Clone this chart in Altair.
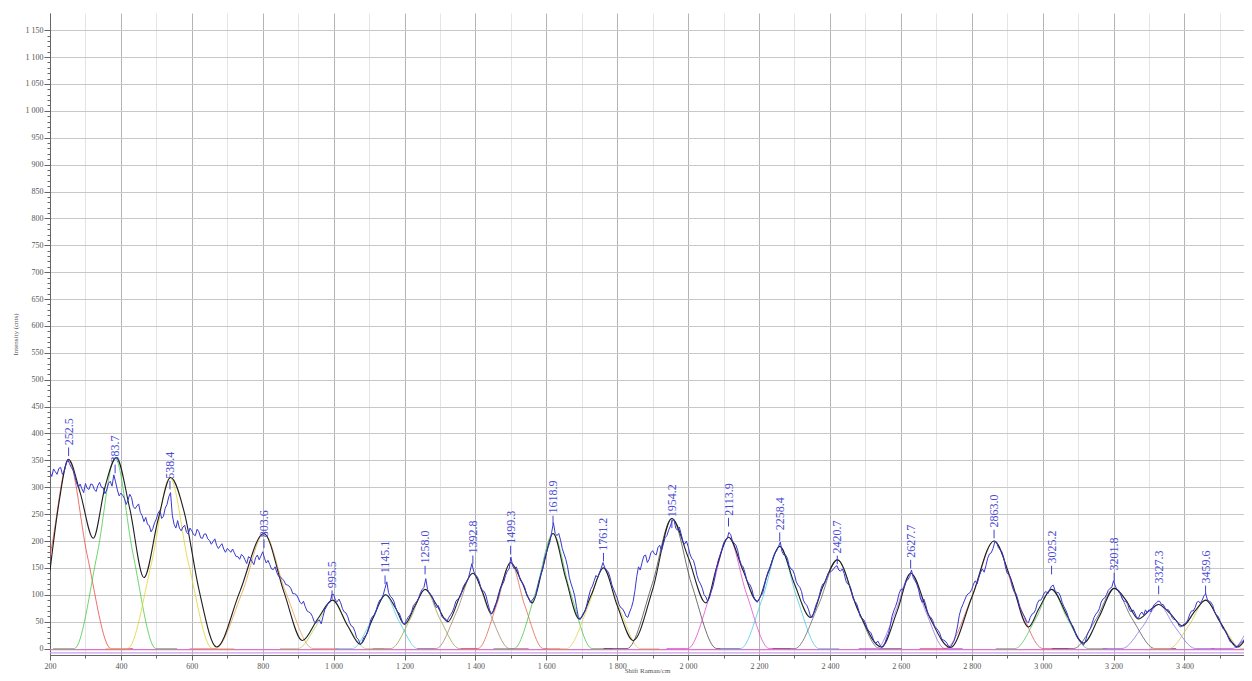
import altair as alt
import pandas as pd

# ---------------- data ----------------
# measured spectrum (blue), sampled every 5 cm-1 from 200 cm-1 (one row = 100 cm-1)
spec_start = 200
spec_step = 5
spec_y = [
    328, 320, 334, 329, 324, 335, 337, 324, 329, 342, 352, 344, 337, 332, 321, 308, 300, 306, 297, 290,
    307, 298, 296, 306, 305, 296, 292, 303, 309, 300, 299, 288, 295, 307, 311, 302, 323, 310, 295, 284,
    289, 285, 279, 268, 276, 287, 281, 264, 260, 265, 269, 253, 247, 236, 244, 231, 229, 217, 223, 234,
    241, 252, 257, 242, 246, 261, 268, 282, 290, 248, 231, 224, 238, 224, 219, 226, 229, 216, 213, 224,
    219, 212, 210, 222, 217, 206, 205, 213, 213, 204, 201, 194, 199, 204, 192, 186, 191, 195, 185, 179,
    186, 183, 179, 185, 178, 171, 171, 166, 175, 172, 165, 158, 171, 168, 162, 156, 169, 174, 165, 172,
    180, 168, 159, 164, 156, 148, 147, 152, 141, 134, 133, 130, 126, 119, 118, 116, 111, 102, 102, 100,
    94, 86, 83, 88, 78, 70, 68, 66, 60, 50, 47, 52, 53, 46, 59, 72, 78, 84, 86, 100,
    101, 90, 87, 92, 85, 74, 68, 66, 59, 48, 42, 40, 32, 20, 17, 8, 11, 20, 24, 28,
    40, 54, 60, 62, 70, 82, 90, 92, 100, 112, 124, 104, 97, 94, 88, 76, 68, 66, 57, 48,
    45, 52, 58, 62, 68, 80, 84, 88, 94, 104, 110, 114, 130, 110, 103, 100, 94, 82, 76, 80,
    72, 60, 56, 56, 51, 58, 63, 68, 77, 88, 92, 94, 102, 114, 120, 124, 130, 144, 158, 144,
    137, 134, 126, 114, 108, 106, 98, 84, 72, 64, 70, 80, 86, 96, 110, 118, 124, 136, 144, 148,
    170, 154, 148, 152, 144, 130, 124, 120, 112, 98, 94, 86, 90, 94, 98, 114, 128, 138, 148, 168,
    178, 188, 198, 216, 234, 214, 210, 214, 202, 186, 176, 166, 152, 132, 120, 110, 98, 78, 60, 54,
    60, 66, 70, 84, 98, 110, 116, 126, 136, 132, 140, 150, 160, 150, 146, 142, 132, 118, 110, 102,
    94, 82, 76, 74, 68, 60, 58, 68, 76, 88, 108, 134, 152, 146, 160, 172, 174, 160, 166, 178,
    182, 176, 174, 188, 192, 182, 194, 206, 210, 220, 228, 238, 240, 224, 220, 226, 214, 200, 194, 200,
    190, 176, 168, 164, 152, 136, 126, 120, 112, 100, 96, 88, 94, 106, 116, 132, 150, 164, 174, 184,
    196, 202, 204, 216, 212, 200, 196, 192, 182, 166, 156, 152, 142, 128, 122, 118, 110, 96, 90, 86,
    92, 98, 102, 116, 130, 142, 148, 158, 170, 178, 182, 190, 198, 180, 174, 174, 168, 154, 148, 146,
    138, 124, 118, 114, 106, 90, 84, 80, 72, 60, 58, 68, 80, 88, 98, 112, 120, 122, 130, 140,
    142, 144, 148, 152, 154, 146, 144, 148, 140, 126, 120, 118, 110, 94, 88, 84, 74, 60, 56, 54,
    48, 38, 32, 30, 22, 12, 10, 14, 8, 2, 3, 10, 20, 28, 42, 60, 70, 78, 88, 102,
    110, 110, 116, 126, 128, 134, 146, 132, 126, 120, 110, 94, 86, 92, 82, 68, 60, 58, 52, 42,
    38, 34, 28, 18, 16, 14, 10, 4, 3, 8, 14, 26, 42, 62, 74, 82, 90, 98, 102, 104,
    110, 120, 126, 120, 132, 142, 148, 142, 154, 168, 176, 178, 186, 198, 198, 188, 184, 180, 170, 152,
    140, 138, 130, 114, 106, 102, 92, 78, 70, 64, 58, 50, 48, 58, 64, 66, 72, 84, 90, 90,
    96, 104, 106, 102, 110, 116, 118, 108, 104, 104, 98, 86, 78, 72, 64, 52, 46, 42, 34, 24,
    18, 16, 12, 6, 12, 24, 32, 38, 48, 58, 64, 68, 74, 86, 92, 94, 100, 108, 112, 114,
    126, 116, 110, 108, 102, 92, 88, 88, 82, 72, 68, 72, 66, 58, 56, 64, 68, 62, 72, 66,
    72, 68, 76, 82, 84, 88, 88, 82, 82, 76, 72, 72, 66, 58, 54, 54, 50, 42, 40, 44,
    46, 48, 54, 64, 70, 70, 76, 86, 88, 84, 90, 98, 102, 90, 88, 86, 80, 68, 62, 60,
    52, 42, 36, 34, 28, 18, 12, 12, 8, 2, 3, 8, 12, 14, 18, 26, 32, 34, 38, 46,
    48,
]

# fitted envelope (black), key points
env_x = [200, 225, 252, 285, 322, 355, 387, 425, 465, 505, 540, 580, 620, 670,
         735, 803, 860, 912, 955, 997, 1040, 1075, 1110, 1147, 1175, 1200, 1230,
         1258, 1290, 1322, 1358, 1393, 1420, 1445, 1472, 1499, 1530, 1560, 1590,
         1619, 1655, 1693, 1727, 1761, 1800, 1845, 1900, 1954, 2000, 2050, 2080,
         2114, 2155, 2195, 2225, 2258, 2300, 2345, 2380, 2421, 2480, 2545, 2590,
         2628, 2680, 2740, 2800, 2863, 2910, 2960, 2990, 3025, 3070, 3115, 3160,
         3202, 3235, 3270, 3300, 3327, 3360, 3395, 3430, 3460, 3500, 3550, 3575, 3600]
env_y = [145, 270, 352, 290, 205, 300, 355, 260, 132, 240, 318, 250, 110, 3,
         105, 214, 105, 15, 55, 90, 42, 8, 55, 100, 75, 45, 80,
         110, 82, 50, 100, 140, 105, 65, 115, 160, 125, 85, 150,
         214, 130, 55, 100, 150, 80, 15, 110, 242, 170, 85, 150,
         207, 145, 88, 140, 190, 120, 58, 115, 165, 70, 3, 70,
         140, 60, 2, 95, 200, 130, 40, 75, 110, 60, 10, 60,
         112, 90, 55, 70, 82, 65, 42, 70, 90, 50, 3, 20, 48]

# fitted components: centre, height, half width at half maximum, colour
comp_center = [252.5, 383.7, 538.4, 803.6, 995.5, 1145.1, 1258.0, 1392.8, 1499.3,
               1618.9, 1761.2, 1954.2, 2113.9, 2258.4, 2420.7, 2627.7, 2863.0,
               3025.2, 3201.8, 3327.3, 3459.6, 3650.0]
comp_height = [350, 355, 318, 214, 90, 100, 110, 140, 160, 214, 150, 242, 207, 190,
               165, 140, 200, 110, 112, 82, 90, 130]
comp_hwhm = [52, 50, 52, 60, 42, 40, 42, 45, 40, 48, 45, 55, 50, 48, 52, 42, 60, 45,
             50, 45, 45, 50]
comp_color = ["#e8403a", "#3cc83c", "#e0d020", "#e89a40", "#a8d048", "#40d0e0",
              "#90a040", "#a08060", "#e06040", "#40c040", "#e0d040", "#404040",
              "#e040d0", "#40c8e0", "#606060", "#a060e0", "#e05050", "#50c050",
              "#505050", "#8070e0", "#d8c040", "#a060e0"]

# peak labels
peak_text = ["252.5", "383.7", "538.4", "803.6", "995.5", "1145.1", "1258.0", "1392.8",
             "1499.3", "1618.9", "1761.2", "1954.2", "2113.9", "2258.4", "2420.7",
             "2627.7", "2863.0", "3025.2", "3201.8", "3327.3", "3459.6"]
peak_label_y = [378, 346, 316, 207, 112, 140, 158, 177, 195, 251, 182, 244, 247, 220,
                177, 169, 225, 158, 145, 121, 121]

# ---------------- tables ----------------
spec_df = pd.DataFrame({
    "x": [spec_start + spec_step * i for i in range(len(spec_y))],
    "y": spec_y,
})
env_df = pd.DataFrame({"x": env_x, "y": env_y})

profile_k = [-3.5, -2.3, -1.0, 0.0, 1.0, 2.3, 3.5]
profile_f = [0.0, 0.0, 0.5, 1.0, 0.5, 0.0, 0.0]
rows = []
for i, (c, h, w) in enumerate(zip(comp_center, comp_height, comp_hwhm)):
    for j, (k, f) in enumerate(zip(profile_k, profile_f)):
        rows.append({"comp": f"c{i:02d}", "order": j, "x": c + k * w, "y": h * f})
comp_df = pd.DataFrame(rows)

peak_df = pd.DataFrame({
    "x": [float(t) for t in peak_text],
    "label": peak_text,
    "y": peak_label_y,
})
peak_df["y0"] = peak_df["y"] - 20
peak_df["y1"] = peak_df["y"] - 4

base_df = pd.DataFrame({"y": [-2.0, -8.0], "kind": ["a", "b"]})

# ---------------- scales / axes ----------------
FONT = "Liberation Serif"
xscale = alt.Scale(domain=[200, 3568], nice=False, zero=False)
yscale = alt.Scale(domain=[-12, 1182], nice=False, zero=False)

fmt = "replace(format(datum.value, ','), ',', ' ')"

x_axis = alt.Axis(
    values=list(range(200, 3601, 100)),
    labelExpr=f"datum.value % 200 === 0 ? {fmt} : ''",
    tickSize=alt.condition("datum.value % 200 === 0", alt.value(5), alt.value(3)),
    gridColor=alt.condition("datum.value % 200 === 0", alt.value("#b4b4b4"), alt.value("#e4e4e4")),
    labelOverlap=False,
    labelFlush=False,
    labelFont=FONT,
    labelFontSize=8,
    labelColor="#555555",
    labelPadding=2,
    tickColor="#666666",
    domainColor="#666666",
    title="Shift Raman/cm",
    titleFont=FONT,
    titleFontSize=7,
    titleFontWeight="normal",
    titleColor="#555555",
    titleX=597,
    titleY=15,
    titleAlign="center",
    titleBaseline="middle",
)

y_axis = alt.Axis(
    values=list(range(0, 1151, 10)),
    labelExpr=f"datum.value % 50 === 0 ? {fmt} : ''",
    tickSize=alt.condition("datum.value % 50 === 0", alt.value(6), alt.value(3)),
    gridOpacity=alt.condition("datum.value % 50 === 0", alt.value(1), alt.value(0)),
    gridColor="#c8c8c8",
    labelOverlap=False,
    labelFlush=False,
    labelFont=FONT,
    labelFontSize=8,
    labelColor="#555555",
    labelPadding=1,
    tickColor="#666666",
    domainColor="#666666",
    title="Intensity (cnts)",
    titleFont=FONT,
    titleFontSize=7,
    titleFontWeight="normal",
    titleColor="#555555",
    titleAngle=270,
    titleX=-35,
    titleY=321,
    titleAlign="center",
    titleBaseline="middle",
)

X = alt.X("x:Q", scale=xscale, axis=x_axis)
Y = alt.Y("y:Q", scale=yscale, axis=y_axis)

# ---------------- layers ----------------
comps = alt.Chart(comp_df).mark_line(
    interpolate="monotone", strokeWidth=1, opacity=0.75, clip=True
).encode(
    x=X, y=Y,
    color=alt.Color("comp:N", scale=alt.Scale(domain=[f"c{i:02d}" for i in range(len(comp_center))],
                                               range=comp_color), legend=None),
    order="order:Q",
)

baselines = alt.Chart(base_df).mark_rule(strokeWidth=1.4).encode(
    y=Y,
    color=alt.Color("kind:N", scale=alt.Scale(domain=["a", "b"], range=["#e070d0", "#c8a0e8"]),
                    legend=None),
)

envelope = alt.Chart(env_df).mark_line(
    interpolate="monotone", color="#1e1e1e", strokeWidth=1.1, clip=True
).encode(x=X, y=Y)

spectrum = alt.Chart(spec_df).mark_line(
    color="#3838d0", strokeWidth=1, clip=True
).encode(x=X, y=Y)

markers = alt.Chart(peak_df).mark_rule(color="#4040d0", strokeWidth=1).encode(
    x=X,
    y=alt.Y("y0:Q", scale=yscale, axis=y_axis),
    y2="y1:Q",
)

labels = alt.Chart(peak_df).mark_text(
    angle=270, align="left", baseline="middle", font=FONT, fontSize=12,
    color="#4b4bd6"
).encode(x=X, y=Y, text="label:N")

chart = alt.layer(
    comps, baselines, envelope, spectrum, markers, labels
).resolve_scale(color="independent").properties(
    width=1194,
    height=642,
    autosize=alt.AutoSizeParams(type="none"),
    padding={"left": 42, "top": 5, "right": 0, "bottom": 18},
    background="white",
).configure_view(stroke=None)

chart.save("out.html", embed_options={"renderer": "svg", "actions": False})
